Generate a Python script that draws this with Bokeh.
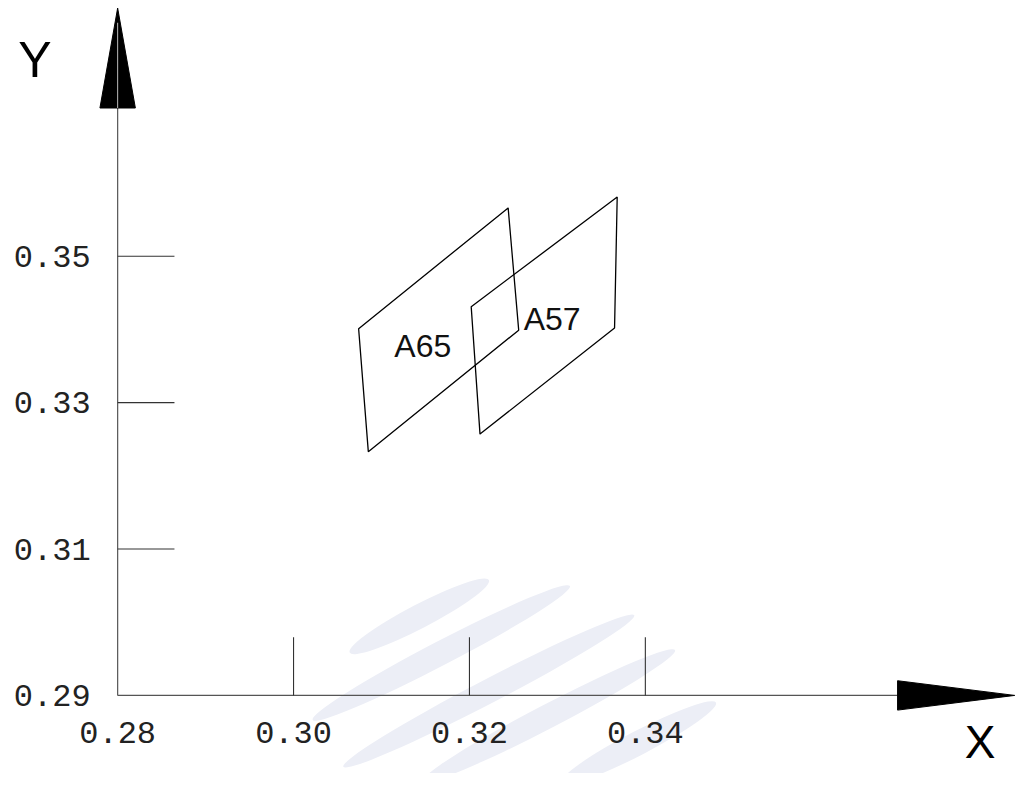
from bokeh.plotting import figure
from bokeh.models import ColumnDataSource, Range1d
from bokeh.core.properties import value
from bokeh.embed import file_html
from bokeh.resources import INLINE
import math

# ---- data ----
x_ticks = [0.30, 0.32, 0.34]
y_ticks = [0.31, 0.33, 0.35]
x_tick_labels = ["0.28", "0.30", "0.32", "0.34"]
x_label_pos = [0.28, 0.30, 0.32, 0.34]
y_tick_labels = ["0.29", "0.31", "0.33", "0.35"]
y_label_pos = [0.29, 0.31, 0.33, 0.35]

region_names = ["A65", "A57"]
region_x = [
    [0.3074, 0.3244, 0.3256, 0.3085],
    [0.3202, 0.3368, 0.3365, 0.3212],
]
region_y = [
    [0.3401, 0.3566, 0.3399, 0.3233],
    [0.3431, 0.3581, 0.3402, 0.3257],
]
label_x = [0.3147, 0.3294]
label_y = [0.3378, 0.3414]

# faint background watermark (bands)
wm_x = [0.3143, 0.3168, 0.3222, 0.3290, 0.3392]
wm_y = [0.3008, 0.2958, 0.2906, 0.2872, 0.2835]
wm_len = [157, 290, 328, 285, 175]

# axis extents
x0, y0 = 0.28, 0.29
x_axis_end = 0.3820
y_axis_end = 0.3839

# ---- view ----
xpp = 0.02 / 178.67
ypp = 0.02 / 149.43
W, H = 1015, 773
p = figure(width=W, height=H, output_backend="svg", toolbar_location=None,
           x_axis_type=None, y_axis_type=None, min_border=0,
           x_range=Range1d(x0 - 119 * xpp, x0 + 912 * xpp),
           y_range=Range1d(y0 - 79.7 * ypp, y0 + 709.3 * ypp))
p.outline_line_color = None
p.grid.visible = False
p.background_fill_color = "white"
p.border_fill_color = "white"

# watermark
p.ellipse(x=wm_x, y=wm_y, width=wm_len, height=[24] * len(wm_x),
          width_units="screen", height_units="screen",
          angle=math.radians(27.5), fill_color="#eceef6", line_color=None)

# axes lines
p.segment(x0=[x0, x0], y0=[y0, y0], x1=[x_axis_end - 100 * xpp, x0],
          y1=[y0, y_axis_end - 90 * ypp], line_color="#555555", line_width=1.2)

# ticks
p.segment(x0=x_ticks, y0=[y0] * len(x_ticks), x1=x_ticks,
          y1=[y0 + 59.3 * ypp] * len(x_ticks), line_color="#333333", line_width=1.1)
p.segment(x0=[x0] * len(y_ticks), y0=y_ticks, x1=[x0 + 57.7 * xpp] * len(y_ticks),
          y1=y_ticks, line_color="#333333", line_width=1.1)

# arrow heads
p.patch(x=[x0 - 18 * xpp, x0, x0 + 18 * xpp],
        y=[y_axis_end - 102 * ypp, y_axis_end, y_axis_end - 102 * ypp],
        fill_color="black", line_color="black")
p.patch(x=[x_axis_end - 119 * xpp, x_axis_end, x_axis_end - 119 * xpp],
        y=[y0 + 15 * ypp, y0, y0 - 15 * ypp],
        fill_color="black", line_color="black")
p.segment(x0=[x0], y0=[y_axis_end - 102 * ypp], x1=[x0], y1=[y_axis_end - 15 * ypp],
          line_color="#bbbbbb", line_width=1)

# regions
src = ColumnDataSource(dict(xs=region_x, ys=region_y))
p.patches(xs="xs", ys="ys", source=src, fill_color=None, line_color="black", line_width=1.3)
p.text(x=label_x, y=label_y, text=region_names, text_align="center",
       text_baseline="middle", text_font=value("Liberation Sans"),
       text_font_size="32px", text_color="#111111")

# tick labels
p.text(x=x_label_pos, y=[y0] * 4, text=x_tick_labels, y_offset=37,
       text_align="center", text_baseline="middle",
       text_font=value("Liberation Mono"), text_font_size="32px", text_color="#222222")
p.text(x=[x0] * 4, y=y_label_pos, text=y_tick_labels, x_offset=-27,
       text_align="right", text_baseline="middle",
       text_font=value("Liberation Mono"), text_font_size="32px", text_color="#222222")

# axis titles
p.text(x=[x0 - 84 * xpp], y=[y0 + 649 * ypp], text=["Y"], text_align="center",
       text_baseline="middle", text_font=value("Liberation Sans"),
       text_font_size="50px", text_color="black")
p.text(x=[x0 + 876 * xpp], y=[y0 - 48 * ypp], text=["X"], text_align="center",
       text_baseline="middle", text_font=value("Liberation Sans"),
       text_font_size="46px", text_color="black")

open("out.html", "w").write(file_html(p, INLINE))
